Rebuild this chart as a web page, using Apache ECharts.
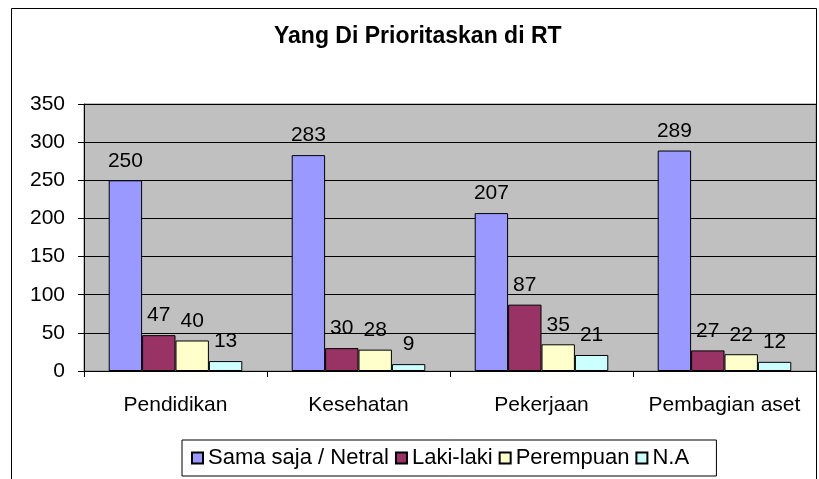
<!DOCTYPE html>
<html>
<head>
<meta charset="utf-8">
<script src="https://cdn.jsdelivr.net/npm/echarts@6/dist/echarts.min.js"></script>
<style>
  html, body { margin: 0; padding: 0; background: #fff; }
  #chart { width: 819px; height: 479px; }
</style>
</head>
<body>
<div id="chart"></div>
<script>
// data
var categories = ['Pendidikan', 'Kesehatan', 'Pekerjaan', 'Pembagian aset'];
var seriesNames = ['Sama saja / Netral', 'Laki-laki', 'Perempuan', 'N.A'];
var netral = [250, 283, 207, 289];
var lakiLaki = [47, 30, 87, 27];
var perempuan = [40, 28, 35, 22];
var na = [13, 9, 21, 12];
var yTicks = { min: 0, max: 350, interval: 50 };

var colors = ['#9999FF', '#993366', '#FFFFCC', '#CCFFFF'];
var font = "'Liberation Sans', Arial, sans-serif";

function bar(name, data, color) {
  return {
    name: name,
    type: 'bar',
    data: data,
    barGap: '0%',
    barCategoryGap: '27%',
    itemStyle: { color: color, borderColor: '#000', borderWidth: 1 },
    label: {
      show: true,
      position: 'top',
      distance: 9,
      color: '#000',
      fontSize: 21,
      fontFamily: font
    }
  };
}

var myChart = echarts.init(document.getElementById('chart'), null, { renderer: 'canvas' });

myChart.setOption({
  animation: false,
  backgroundColor: '#fff',
  textStyle: { fontFamily: font },
  title: {
    text: 'Yang Di Prioritaskan di RT',
    left: 274,
    top: 25,
    padding: 0,
    textStyle: { fontSize: 23, fontWeight: 'bold', color: '#000', fontFamily: font }
  },
  // chart border
  graphic: [{
    type: 'rect',
    shape: { x: 11.5, y: 8.5, width: 805, height: 500 },
    style: { fill: 'none', stroke: '#000', lineWidth: 1 },
    silent: true
  }],
  grid: {
    left: 84, top: 104, width: 732, height: 267,
    show: true,
    backgroundColor: '#C0C0C0',
    borderColor: '#808080',
    borderWidth: 1
  },
  legend: {
    data: seriesNames,
    left: 182,
    top: 440,
    icon: 'rect',
    itemWidth: 11,
    itemHeight: 11,
    itemGap: 6,
    padding: [7, 9, 7, 9],
    borderColor: '#000',
    borderWidth: 1,
    // the last entry sits in a wider slot in the original legend box
    formatter: function (name) {
      return name === 'N.A' ? name + '\u00a0\u00a0\u00a0' : name;
    },
    textStyle: { fontSize: 22, color: '#000', fontFamily: font }
  },
  xAxis: {
    type: 'category',
    data: categories,
    axisLine: { lineStyle: { color: '#000', width: 1 } },
    axisTick: { show: true, interval: 0, length: 6, lineStyle: { color: '#000' } },
    axisLabel: { interval: 0, color: '#000', fontSize: 21, margin: 24, fontFamily: font }
  },
  yAxis: {
    type: 'value',
    min: yTicks.min,
    max: yTicks.max,
    interval: yTicks.interval,
    axisLine: { show: true, lineStyle: { color: '#000', width: 1 } },
    axisTick: { show: true, length: 6, lineStyle: { color: '#000' } },
    axisLabel: { color: '#000', fontSize: 21, margin: 19, fontFamily: font },
    splitLine: { show: true, lineStyle: { color: '#000', width: 1 } }
  },
  series: [
    bar(seriesNames[0], netral, colors[0]),
    bar(seriesNames[1], lakiLaki, colors[1]),
    bar(seriesNames[2], perempuan, colors[2]),
    bar(seriesNames[3], na, colors[3])
  ]
});
</script>
</body>
</html>
